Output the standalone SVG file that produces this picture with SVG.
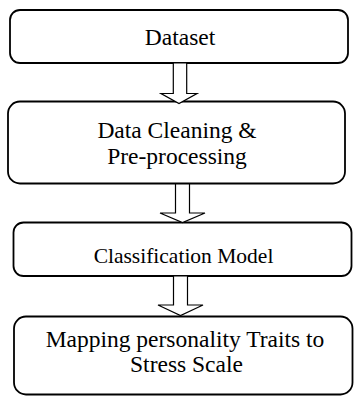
<svg xmlns="http://www.w3.org/2000/svg" width="354" height="396" viewBox="0 0 354 396">
<style>
.box{fill:#fff;stroke:#000;stroke-width:1.8}
.arr{fill:#fff;stroke:#000;stroke-width:1.2;stroke-linejoin:miter}
.t{font-family:"Liberation Serif","Times New Roman",serif;font-size:23.5px;fill:#000;text-anchor:middle}
.s{font-size:21.5px}
</style>
<rect width="354" height="396" fill="#fff"/>
<g id="n1">
<rect class="box" x="10" y="10" width="338" height="53" rx="10"/>
<text class="t" x="180" y="45">Dataset</text>
</g>
<g id="n2">
<rect class="box" x="8" y="101.5" width="337" height="82" rx="12"/>
<text class="t" x="177" y="138.3">Data Cleaning &amp;</text>
<text class="t" x="177" y="163.5">Pre-processing</text>
</g>
<g id="n3">
<rect class="box" x="13.5" y="222.5" width="338" height="53.5" rx="10"/>
<text class="t s" x="183.5" y="263.3">Classification Model</text>
</g>
<g id="n4">
<rect class="box" x="14" y="316.5" width="338.5" height="78" rx="12"/>
<text class="t" x="185" y="346.7">Mapping personality Traits to</text>
<text class="t" x="186.5" y="371.7">Stress Scale</text>
</g>
<g id="connectors">
<polygon class="arr" points="173.3,63 186.7,63 186.7,93.5 197,93.5 179,103.5 161,93.5 173.3,93.5"/>
<polygon class="arr" points="175.5,184 189.5,184 189.5,213 205,213 182.5,222.5 160,213 175.5,213"/>
<polygon class="arr" points="173.5,276 187.5,276 187.5,305 203,305 180.5,315.5 158,305 173.5,305"/>
</g>
</svg>
